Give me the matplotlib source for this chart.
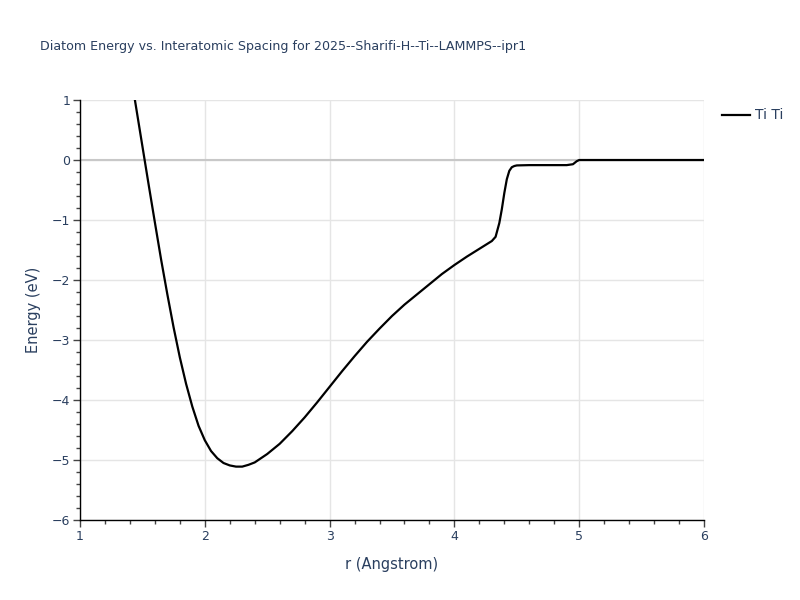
import matplotlib
matplotlib.use("Agg")
import matplotlib.pyplot as plt
from matplotlib.ticker import MultipleLocator, FuncFormatter
from matplotlib.lines import Line2D

r = [1.44, 1.5, 1.55, 1.6, 1.65, 1.7, 1.75, 1.8, 1.85, 1.9, 1.95, 2.0, 2.05, 2.1,
     2.15, 2.2, 2.25, 2.3, 2.35, 2.4, 2.5, 2.6, 2.7, 2.8, 2.9, 3.0, 3.1, 3.2, 3.3,
     3.4, 3.5, 3.6, 3.7, 3.8, 3.9, 4.0, 4.1, 4.2, 4.3, 4.33, 4.36, 4.38, 4.4, 4.42,
     4.44, 4.46, 4.48, 4.5, 4.6, 4.7, 4.8, 4.9, 4.95, 4.98, 5.0, 5.5, 6.0]
energy = [1.0, 0.23, -0.41, -1.04, -1.66, -2.24, -2.79, -3.29, -3.73, -4.11, -4.43, -4.67,
          -4.85, -4.97, -5.05, -5.09, -5.11, -5.11, -5.08, -5.04, -4.9, -4.73, -4.52,
          -4.29, -4.04, -3.78, -3.52, -3.27, -3.03, -2.81, -2.6, -2.41, -2.24, -2.07,
          -1.9, -1.75, -1.61, -1.48, -1.35, -1.28, -1.05, -0.82, -0.55, -0.32, -0.18,
          -0.12, -0.1, -0.09, -0.085, -0.085, -0.085, -0.085, -0.07, -0.02, 0.0, 0.0, 0.0]

title = "Diatom Energy vs. Interatomic Spacing for 2025--Sharifi-H--Ti--LAMMPS--ipr1"
series_label = "Ti Ti"
x_label = "r (Angstrom)"
y_label = "Energy (eV)"

txt = "#2a3f5f"
fig = plt.figure(figsize=(8, 6), dpi=100)
ax = fig.add_axes([0.1, 0.1333, 0.78, 0.7])
ax.set_xlim(1, 6)
ax.set_ylim(-6, 1)
ax.xaxis.set_major_locator(MultipleLocator(1))
ax.xaxis.set_minor_locator(MultipleLocator(0.2))
ax.yaxis.set_major_locator(MultipleLocator(1))
ax.yaxis.set_minor_locator(MultipleLocator(0.2))
ax.grid(True, which="major", color="#e5e5e5", linewidth=1)
ax.axhline(0, color="#c8c8c8", linewidth=1.5, zorder=1)
ax.set_axisbelow(True)
for s in ["top", "right"]:
    ax.spines[s].set_visible(False)
for s in ["left", "bottom"]:
    ax.spines[s].set_color("black")
    ax.spines[s].set_linewidth(1)
ax.tick_params(which="major", direction="out", length=5, width=1, color="#444444",
               labelsize=9, labelcolor=txt, pad=2)
ax.tick_params(which="minor", direction="out", length=3, width=1, color="#444444")
ax.yaxis.set_major_formatter(FuncFormatter(
    lambda v, p: ("\u2212%d" % abs(round(v))) if v < 0 else "%d" % round(v)))

ax.plot(r, energy, color="black", linewidth=1.6, zorder=3)

ax.set_xlabel(x_label, fontsize=10.5, color=txt, labelpad=10)
ax.set_ylabel(y_label, fontsize=10.5, color=txt, labelpad=8)
fig.text(0.05, 0.923, title, fontsize=9.1, color=txt, ha="left", va="center")

fig.add_artist(Line2D([0.9025, 0.9375], [0.8083, 0.8083], color="black", linewidth=1.6))
fig.text(0.944, 0.8083, series_label, fontsize=10, color=txt, ha="left", va="center")

fig.savefig("out.png", dpi=100)
